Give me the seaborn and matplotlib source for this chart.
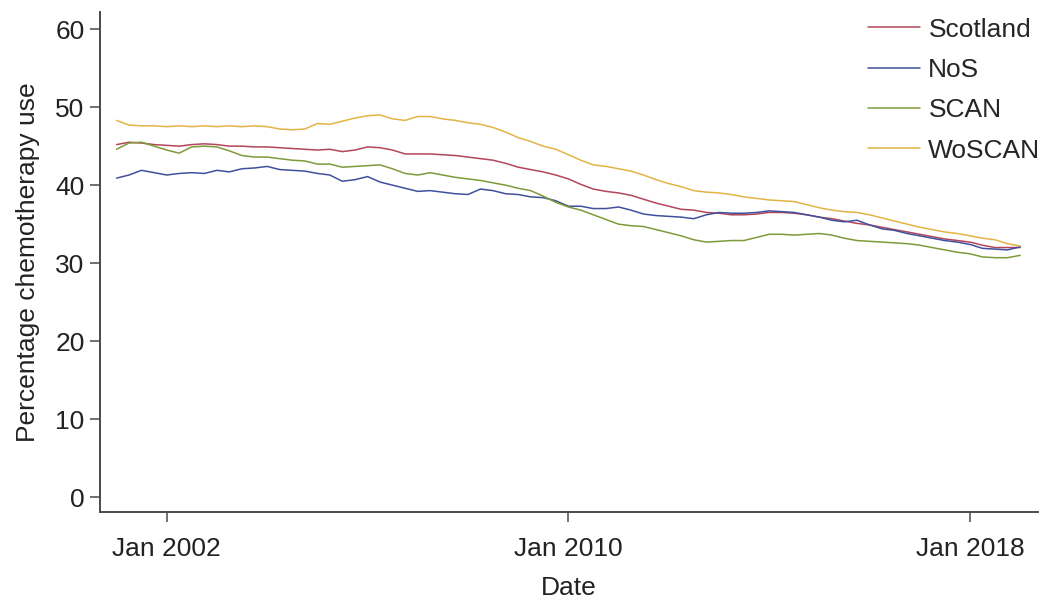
import matplotlib
matplotlib.use("Agg")
import matplotlib.pyplot as plt
import matplotlib.dates as mdates
import pandas as pd
import seaborn as sns

sns.set_style("ticks")
plt.rcParams['font.family'] = ['Liberation Sans', 'DejaVu Sans']

# Quarterly readings, Jan 2001 -> Jan 2019
dates = pd.date_range("2001-01-01", periods=73, freq="QS")

scotland = [
    45.2, 45.5, 45.4, 45.2, 45.1, 45.0, 45.2, 45.3, 45.2, 45.0,
    45.0, 44.9, 44.9, 44.8, 44.7, 44.6, 44.5, 44.6, 44.3, 44.5,
    44.9, 44.8, 44.5, 44.0, 44.0, 44.0, 43.9, 43.8, 43.6, 43.4,
    43.2, 42.8, 42.3, 42.0, 41.7, 41.3, 40.8, 40.1, 39.5, 39.2,
    39.0, 38.7, 38.2, 37.7, 37.3, 36.9, 36.8, 36.5, 36.4, 36.2,
    36.2, 36.3, 36.5, 36.5, 36.4, 36.2, 35.9, 35.7, 35.4, 35.1,
    34.9, 34.6, 34.3, 34.0, 33.7, 33.4, 33.1, 32.9, 32.7, 32.3,
    32.0, 32.0, 32.0,
]
nos = [
    40.9, 41.3, 41.9, 41.6, 41.3, 41.5, 41.6, 41.5, 41.9, 41.7,
    42.1, 42.2, 42.4, 42.0, 41.9, 41.8, 41.5, 41.3, 40.5, 40.7,
    41.1, 40.4, 40.0, 39.6, 39.2, 39.3, 39.1, 38.9, 38.8, 39.5,
    39.3, 38.9, 38.8, 38.5, 38.4, 38.0, 37.3, 37.3, 37.0, 37.0,
    37.2, 36.8, 36.3, 36.1, 36.0, 35.9, 35.7, 36.2, 36.5, 36.4,
    36.4, 36.5, 36.7, 36.6, 36.5, 36.2, 35.9, 35.5, 35.3, 35.5,
    34.9, 34.4, 34.2, 33.8, 33.5, 33.2, 32.9, 32.7, 32.4, 31.9,
    31.8, 31.7, 32.1,
]
scan = [
    44.6, 45.4, 45.5, 45.0, 44.5, 44.1, 44.9, 45.0, 44.9, 44.4,
    43.8, 43.6, 43.6, 43.4, 43.2, 43.1, 42.7, 42.7, 42.3, 42.4,
    42.5, 42.6, 42.1, 41.5, 41.3, 41.6, 41.3, 41.0, 40.8, 40.6,
    40.3, 40.0, 39.6, 39.3, 38.6, 37.8, 37.2, 36.8, 36.2, 35.6,
    35.0, 34.8, 34.7, 34.3, 33.9, 33.5, 33.0, 32.7, 32.8, 32.9,
    32.9, 33.3, 33.7, 33.7, 33.6, 33.7, 33.8, 33.6, 33.2, 32.9,
    32.8, 32.7, 32.6, 32.5, 32.3, 32.0, 31.7, 31.4, 31.2, 30.8,
    30.7, 30.7, 31.0,
]
woscan = [
    48.3, 47.7, 47.6, 47.6, 47.5, 47.6, 47.5, 47.6, 47.5, 47.6,
    47.5, 47.6, 47.5, 47.2, 47.1, 47.2, 47.9, 47.8, 48.2, 48.6,
    48.9, 49.0, 48.5, 48.3, 48.8, 48.8, 48.5, 48.3, 48.0, 47.8,
    47.4, 46.8, 46.1, 45.6, 45.0, 44.6, 43.9, 43.2, 42.6, 42.4,
    42.1, 41.8, 41.3, 40.7, 40.2, 39.8, 39.3, 39.1, 39.0, 38.8,
    38.5, 38.3, 38.1, 38.0, 37.9, 37.5, 37.1, 36.8, 36.6, 36.5,
    36.2, 35.8, 35.4, 35.0, 34.6, 34.3, 34.0, 33.8, 33.5, 33.2,
    33.0, 32.5, 32.2,
]

regions = ["Scotland", "NoS", "SCAN", "WoSCAN"]
colours = ["#b3465a", "#40509c", "#7e9b3a", "#e2b446"]
y_ticks = [0, 10, 20, 30, 40, 50, 60]
x_ticks = ["2002-01-01", "2010-01-01", "2018-01-01"]

series = {"Scotland": scotland, "NoS": nos, "SCAN": scan, "WoSCAN": woscan}
df = pd.concat(
    [pd.DataFrame({"Date": dates, "Percentage": v, "Region": k}) for k, v in series.items()],
    ignore_index=True)

fig = plt.figure(figsize=(10.40, 5.99), dpi=100)
ax = fig.add_axes([0.096, 0.145, 0.902, 0.835])
sns.lineplot(data=df, x="Date", y="Percentage", hue="Region", hue_order=regions,
             palette=dict(zip(regions, colours)), linewidth=1.1, ax=ax)

ax.set_xlim(pd.Timestamp("2000-09-01"), pd.Timestamp("2019-05-10"))
ax.set_ylim(-1.92, 62.2)
ax.set_yticks(y_ticks)
ax.set_xticks([pd.Timestamp(t) for t in x_ticks])
ax.xaxis.set_major_formatter(mdates.DateFormatter("%b %Y"))

sns.despine(ax=ax)
for side in ["left", "bottom"]:
    ax.spines[side].set_color("#4a4a4a")
    ax.spines[side].set_linewidth(1.4)
ax.tick_params(axis="both", labelsize=19, colors="#4a4a4a", labelcolor="#222222",
               length=7, width=1.1)
ax.tick_params(axis="x", pad=11)
ax.tick_params(axis="y", pad=4)
ax.set_xlabel("Date", fontsize=19, color="#222222", labelpad=11)
ax.set_ylabel("Percentage chemotherapy use", fontsize=19, color="#222222", labelpad=11)

handles, labels = ax.get_legend_handles_labels()
ax.legend(handles, labels, loc="upper right", bbox_to_anchor=(1.014, 1.01),
          frameon=False, fontsize=19, handlelength=2.0, handletextpad=0.3,
          labelspacing=0.62, borderaxespad=0.0)

fig.savefig("out.png", dpi=100)
